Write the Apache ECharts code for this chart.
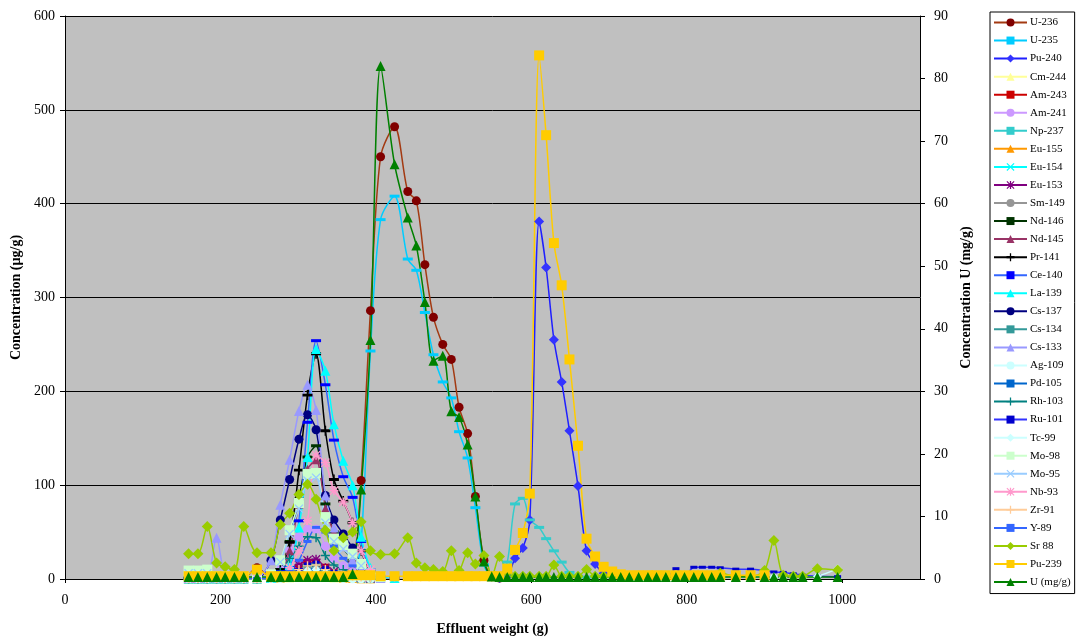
<!DOCTYPE html>
<html><head><meta charset="utf-8">
<script src="https://cdn.jsdelivr.net/npm/echarts@6/dist/echarts.min.js"></script>
<style>html,body{margin:0;padding:0;background:#fff}#c{width:1078px;height:641px}</style>
</head><body><div id="c"></div>
<script>
// Effluent weight (g) of each sampled fraction
const weights = [159,171,183,195,206,218,230,247,265,277,
  289,301,312,323,335,346,358,370,381,393,
  406,424,441,452,463,474,486,497,507,518,
  528,539,549,559,569,579,589,598,610,619,
  629,639,649,660,671,682,693,704,715,726,
  738,750,761,773,786,797,809,820,832,843,
  863,882,900,912,924,937,949,968,994];

// Concentrations (µg/g) on the left axis
const u236 = [1,1,1,1,1,1,1,12,2,2, 2,2,2,2,2,2,2,8,105,286, 450,482,413,403,335,279,250,234,183,155, 88,20,3,1];
const u235 = [1,1,1,1,1,1,1,2,1,1, 1,1,1,1,1,1,2,3,40,243, 383,408,341,329,284,239,210,193,157,129, 76,15,2,1];
const pu240 = [null,null,null,null,null,null,null,null,null,null, null,null,null,null,null,null,null,null,null,null,
  null,null,null,null,null,null,null,null,null,null, null,null,null,1,3,22,33,63,381,332,
  255,210,158,99,30,16,6,3,2,2];
const cm244 = [0.2,0.2,0.2,0.2,0.2,0.2,0.2,0.2,0.5,0.5, 1,2,3,3,2,1,0.5,0.5,0.3,0.3];
const am243 = [0.5,0.5,0.5,0.5,0.5,0.5,0.5,0.5,1,2, 5,12,17,17,12,6,3,1,0.5,0.5];
const am241 = [0.5,0.5,0.5,0.5,0.5,0.5,0.5,0.5,3,10, 30,45,53,53,35,22,14,8,4,1];
const np237 = [null,null,null,null,null,null,null,null,null,null, null,null,null,null,null,null,null,null,null,null,
  null,null,null,null,null,null,null,null,null,null, null,1,2,3,18,80,86,63,55,43,
  30,18,7,3,2];
const eu155 = [0.3,0.3,0.3,0.3,0.3,0.3,0.3,0.3,0.5,1, 2,4,5,5,3,2,1,0.5,0.3,0.3];
const eu154 = [0.3,0.3,0.3,0.3,0.3,0.3,0.3,0.3,0.5,1, 4,8,12,13,8,5,3,1.5,0.5,0.3];
const eu153 = [0.3,0.3,0.3,0.3,0.3,0.3,0.3,0.3,1,2, 8,15,20,21,12,8,4,2,1,0.5];
const sm149 = [0.3,0.3,0.3,0.3,0.3,0.3,0.3,0.3,0.5,1, 3,7,10,10,6,3,2,1,0.5,0.3];
const nd146 = [0.3,0.3,0.3,0.3,0.3,0.3,0.3,0.3,2,10, 40,85,130,142,80,50,33,20,8,2];
const nd145 = [0.3,0.3,0.3,0.3,0.3,0.3,0.3,0.3,1,5, 30,80,117,127,75,50,35,22,10,3];
const pr141 = [0.5,0.5,0.5,0.5,0.5,0.5,0.5,0.5,2,10, 39,116,196,240,158,106,83,60,30,8, 2];
const ce140 = [1,1,1,1,1,1,1,1,2,8, 12,62,167,254,207,148,109,87,40,10, 3,1];
const la139 = [0.5,0.5,0.5,0.5,0.5,0.5,0.5,0.5,1,3, 15,55,130,245,222,165,126,100,45,12, 3,1];
const cs137 = [0.5,0.5,0.5,0.5,0.5,0.5,0.5,0.5,20,63, 106,149,175,159,89,63,48,33,15,5, 1];
const cs134 = [0.3,0.3,0.3,0.3,0.3,0.3,0.3,0.3,0.5,1, 4,8,14,15,9,5,3,2,1,0.5];
const cs133 = [1,1,2,44,4,2,2,2,20,79, 127,179,207,180,89,55,35,20,10,3, 1];
const ag109 = [0.3,0.3,0.3,0.3,0.3,0.3,0.3,0.3,0.5,0.5, 1,2,3,3,2,1,0.5,0.3,0.3,0.3];
const pd105 = [0.5,0.5,0.5,0.5,0.5,0.5,0.5,0.5,0.5,1, 3,6,9,10,7,4,3,2,1,0.5];
const rh103 = [0.5,0.5,0.5,0.5,0.5,0.5,0.5,0.5,2,8, 22,35,45,44,25,15,10,6,3,1];
const ru101 = [0.5,0.5,0.5,0.5,0.5,0.5,0.5,0.5,1,2, 5,10,16,18,12,8,6,4,2,1,
  null,null,null,null,null,null,null,null,null,null, null,null,null,null,null,null,null,null,null,null,
  null,null,null,null,null,null,null,null,1,1, 1,1,1,1,11,2,12.5,12.5,12.5,12, 10.5,10.5,9,7.5,7,5.5,4,3,2.5];
const tc99 = [0.5,0.5,0.5,0.5,0.5,0.5,0.5,0.5,1,1, 3,6,9,10,7,4,3,2,1,null,
  null,null,null,null,null,null,null,null,null,null, null,null,null,null,null,null,null,null,null,null,
  null,null,null,null,null,null,null,null,null,null, null,null,null,null,null,null,null,null,null,null,
  2,2,2,2,2,2,2,3,11];
const mo98 = [9,9,10,3,3,2,2,1,5,20, 52,81,112,113,66,43,36,27,16,6, 2];
const mo95 = [6,6,6,2,2,1,1,1,4,18, 48,75,105,108,60,40,32,24,14,5, 2];
const nb93 = [0.5,0.5,0.5,0.5,0.5,0.5,0.5,0.5,1,3, 12,30,62,132,124,94,82,60,30,10, 4,2];
const zr91 = [0.5,0.5,0.5,0.5,0.5,0.5,0.5,0.5,1,2, 5,10,14,15,10,6,4,3,2,1];
const y89 = [0.5,0.5,0.5,0.5,0.5,0.5,0.5,0.5,1,2, 8,20,40,55,50,35,22,14,6,2, 1];
const sr88 = [27,27,56,17,13,10,56,28,28,58, 70,90,101,85,52,30,44,50,61,30,
  26,27,44,17,12,10,8,30,9,28, 16,25,3,24,7,3,3,3,3,3,
  15,3,3,3,10,3,3,3,3,3, 3,3,3,3,3,3,3,3,3,6, 3,3,9,41,4,3,3,11,9.5];
const pu239 = [3,3,3,3,3,3,3,10,3,3, 3,3,3,3,3,3,3,4,4,4,
  3,3,3,3,3,3,3,3,3,3, 3,3,3,3,11,31,49,91,558,473,
  358,313,234,142,43,24,13,8,5,4, 4,4,4,4,4,4,4,4,4,4, 4,4,4];
// U concentration (mg/g) on the right axis
const uMg = [0.3,0.3,0.3,0.3,0.3,0.3,0.3,0.3,0.3,0.3, 0.3,0.3,0.3,0.3,0.3,0.3,0.3,0.8,14.3,38.2,
  82,66.3,57.8,53.3,44.3,34.9,35.7,26.8,25.9,21.5, 13.2,2.8,0.4,0.3,0.3,0.3,0.3,0.3,0.3,0.3,
  0.3,0.3,0.3,0.3,0.3,0.3,0.3,0.3,0.3,0.3, 0.3,0.3,0.3,0.3,0.3,0.3,0.3,0.3,0.3,0.3, 0.3,0.3,0.3,0.3,0.3,0.3,0.3,0.3,0.3];

const FONT = '"Liberation Serif","Times New Roman",serif';
const XMARK = 'path://M1,0L5,4L9,0L10,1L6,5L10,9L9,10L5,6L1,10L0,9L4,5L0,1Z';
const PLUS = 'path://M4.2,0H5.8V4.2H10V5.8H5.8V10H4.2V5.8H0V4.2H4.2Z';
const STAR = 'path://M1,0L5,4L9,0L10,1L6,5L10,9L9,10L5,6L1,10L0,9L4,5L0,1Z M4.2,0H5.8V4.2H10V5.8H5.8V10H4.2V5.8H0V4.2H4.2Z';
const DPLUS = 'path://M0,4H4.2V1.5H5.8V4H10V6H5.8V8.5H4.2V6H0Z';
const DASH = [10,3];

const defs = [
  ['U-236', u236, '#A33A12', 'circle', '#800000', 9],
  ['U-235', u235, '#00CCFF', 'rect', '#00CCFF', DASH],
  ['Pu-240', pu240, '#1F1FFF', 'diamond', '#3333FF', 10],
  ['Cm-244', cm244, '#FFFF99', 'triangle', '#FFFF99', 9],
  ['Am-243', am243, '#CC0000', 'rect', '#CC0000', 8],
  ['Am-241', am241, '#CC99FF', 'circle', '#CC99FF', 9],
  ['Np-237', np237, '#33CCCC', 'rect', '#33CCCC', DASH],
  ['Eu-155', eu155, '#FF9900', 'triangle', '#FF9900', 9],
  ['Eu-154', eu154, '#00FFFF', XMARK, '#00FFFF', 9],
  ['Eu-153', eu153, '#800080', STAR, '#800080', 9],
  ['Sm-149', sm149, '#969696', 'circle', '#969696', 9],
  ['Nd-146', nd146, '#003300', 'rect', '#003300', DASH],
  ['Nd-145', nd145, '#993366', 'triangle', '#993366', 9],
  ['Pr-141', pr141, '#000000', DPLUS, '#000000', 10],
  ['Ce-140', ce140, '#3366FF', 'rect', '#0000FF', DASH],
  ['La-139', la139, '#00FFFF', 'triangle', '#00FFFF', 10],
  ['Cs-137', cs137, '#000080', 'circle', '#000080', 9],
  ['Cs-134', cs134, '#339999', 'rect', '#339999', DASH],
  ['Cs-133', cs133, '#9999FF', 'triangle', '#9999FF', 10],
  ['Ag-109', ag109, '#CCFFFF', 'circle', '#CCFFFF', 9],
  ['Pd-105', pd105, '#0066CC', 'rect', '#0066CC', DASH],
  ['Rh-103', rh103, '#008080', PLUS, '#008080', 9],
  ['Ru-101', ru101, '#3333FF', 'rect', '#0000CC', [7,3]],
  ['Tc-99', tc99, '#CCFFFF', 'diamond', '#CCFFFF', 9],
  ['Mo-98', mo98, '#CCFFCC', 'rect', '#CCFFCC', 10],
  ['Mo-95', mo95, '#99CCFF', XMARK, '#99CCFF', 9],
  ['Nb-93', nb93, '#FF99CC', STAR, '#FF99CC', 9],
  ['Zr-91', zr91, '#FFCC99', PLUS, '#FFCC99', 9],
  ['Y-89', y89, '#3366FF', 'rect', '#3366FF', [8,3]],
  ['Sr 88', sr88, '#99CC00', 'diamond', '#99CC00', 11],
  ['Pu-239', pu239, '#FFCC00', 'rect', '#FFCC00', 10],
  ['U (mg/g)', uMg, '#008000', 'triangle', '#008000', 10, 1]
];

const series = defs.map(d => ({
  name: d[0], type: 'line', yAxisIndex: d[6] || 0,
  data: d[1].map((v, i) => [weights[i], v]),
  smooth: 0.3, connectNulls: false,
  symbol: d[3], symbolSize: d[5], showSymbol: true,
  lineStyle: { color: d[2], width: 1.5 },
  itemStyle: { color: d[4], borderWidth: 0 },
  emphasis: { disabled: true },
  clip: true
}));

const axisTxt = { fontFamily: FONT, fontSize: 14, color: '#000' };
const nameTxt = { fontFamily: FONT, fontSize: 14, fontWeight: 'bold', color: '#000' };

const chart = echarts.init(document.getElementById('c'));
chart.setOption({
  animation: false,
  backgroundColor: '#fff',
  textStyle: { fontFamily: FONT },
  grid: { left: 65, right: 158, top: 16, bottom: 59, show: true, backgroundColor: '#C0C0C0', borderWidth: 0 },
  xAxis: {
    type: 'value', min: 0, max: 1100, interval: 200,
    name: 'Effluent weight (g)', nameLocation: 'middle', nameGap: 43, nameTextStyle: nameTxt,
    axisLine: { show: true, onZero: false, lineStyle: { color: '#000', width: 1 } },
    axisTick: { show: true, length: 4, lineStyle: { color: '#000' } },
    axisLabel: Object.assign({ margin: 14, showMaxLabel: false, formatter: v => String(v) }, axisTxt),
    splitLine: { show: false }
  },
  yAxis: [
    {
      type: 'value', min: 0, max: 600, interval: 100, position: 'left',
      name: 'Concentration (µg/g)', nameLocation: 'middle', nameGap: 41, nameRotate: 90, nameTextStyle: nameTxt,
      axisLine: { show: true, lineStyle: { color: '#000', width: 1 } },
      axisTick: { show: true, length: 5, lineStyle: { color: '#000' } },
      axisLabel: Object.assign({ margin: 10 }, axisTxt),
      splitLine: { show: true, lineStyle: { color: '#000', width: 1 } }
    },
    {
      type: 'value', min: 0, max: 90, interval: 10, position: 'right',
      name: 'Concentration U (mg/g)', nameLocation: 'middle', nameGap: 33, nameRotate: 90, nameTextStyle: nameTxt,
      axisLine: { show: true, lineStyle: { color: '#000', width: 1 } },
      axisTick: { show: true, length: 5, lineStyle: { color: '#000' } },
      axisLabel: Object.assign({ margin: 14 }, axisTxt),
      splitLine: { show: false }
    }
  ],
  legend: {
    orient: 'vertical', left: 990, top: 12,
    padding: [5, 4, 6, 3],
    backgroundColor: '#fff', borderColor: '#000', borderWidth: 1,
    itemWidth: 33, itemHeight: 10, itemGap: 7.05,
    textStyle: { fontFamily: FONT, fontSize: 11, color: '#000', lineHeight: 11, padding: [0, 0, 0, -2] },
    data: defs.map(d => d[0])
  },
  series: series
});
</script>
</body></html>
